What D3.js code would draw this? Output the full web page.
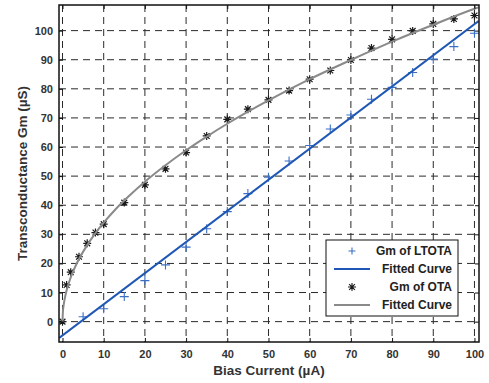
<!DOCTYPE html>
<html>
<head>
<meta charset="utf-8">
<script src="https://cdn.jsdelivr.net/npm/d3@7"></script>
<style>
  body { margin: 0; background: #fff; }
  svg { display: block; font-family: "Liberation Sans", Arial, sans-serif; }
  .tick-label { font-size: 11px; font-weight: bold; fill: #333; }
  .axis-title { font-size: 13.5px; font-weight: bold; fill: #333; }
  .legend-text { font-size: 12px; font-weight: bold; fill: #222; }
</style>
</head>
<body>
<div id="wrapper"></div>
<script>
// 1. Data

const xTicks = [0, 10, 20, 30, 40, 50, 60, 70, 80, 90, 100]
const yTicks = [0, 10, 20, 30, 40, 50, 60, 70, 80, 90, 100]

const ltotaX = [5, 10, 15, 20, 25, 30, 35, 40, 45, 50, 55, 60, 65, 70, 75, 80, 85, 90, 95, 100]
const ltotaY = [1.7, 4.4, 8.6, 14.1, 19.5, 25.6, 31.9, 37.8, 44.0, 49.6, 55.2, 60.5, 66.2, 71.0, 76.4, 80.5, 85.6, 90.2, 94.5, 99.1]

const otaX = [0, 1, 2, 4, 6, 8, 10, 15, 20, 25, 30, 35, 40, 45, 50, 55, 60, 65, 70, 75, 80, 85, 90, 95, 100]
const otaY = [0, 12.6, 17.0, 22.3, 26.9, 30.6, 33.5, 40.9, 47.0, 52.5, 58.1, 63.8, 69.5, 73.0, 76.2, 79.4, 83.3, 86.3, 89.9, 94.0, 97.0, 99.9, 102.3, 104.0, 105.2]

const ltotaFitX = [-0.8, 101]
const ltotaFitY = [-5.6, 103.3]

const otaFitX = [0, 0.1, 0.3, 0.6, 1, 2, 3, 4, 6, 8, 10, 13, 16, 20, 25, 30, 35, 40, 50, 60, 70, 80, 90, 100, 101]
const otaFitY = [0, 3.4, 5.9, 8.3, 10.75, 15.2, 18.6, 21.5, 26.3, 30.4, 34.0, 38.8, 43.0, 48.1, 53.75, 58.9, 63.6, 68.0, 76.0, 83.3, 89.9, 96.2, 102.0, 107.5, 108.0]

const legendLabels = ["Gm of LTOTA", "Fitted Curve", "Gm of OTA", "Fitted Curve"]

// 2. Dimensions

let dimensions = {
  width: 489,
  height: 383,
  margin: { top: 5, right: 10, bottom: 41, left: 59 },
}
dimensions.boundedWidth = dimensions.width - dimensions.margin.left - dimensions.margin.right
dimensions.boundedHeight = dimensions.height - dimensions.margin.top - dimensions.margin.bottom

const blue = "#1f57b4"
const blueMarker = "#3b6fc6"
const gray = "#8a8a8a"

// 3. Canvas

const wrapper = d3.select("#wrapper")
  .append("svg")
    .attr("width", dimensions.width)
    .attr("height", dimensions.height)

const bounds = wrapper.append("g")
    .attr("transform", `translate(${dimensions.margin.left}, ${dimensions.margin.top})`)

bounds.append("defs").append("clipPath")
    .attr("id", "clip")
  .append("rect")
    .attr("width", dimensions.boundedWidth)
    .attr("height", dimensions.boundedHeight)

// 4. Scales

const xScale = d3.scaleLinear()
  .domain([-0.85, 101.1])
  .range([0, dimensions.boundedWidth])

const yScale = d3.scaleLinear()
  .domain([-7, 108.8])
  .range([dimensions.boundedHeight, 0])

// grid
const grid = bounds.append("g").attr("class", "grid")
grid.selectAll(".vgrid")
  .data(xTicks)
  .join("line")
    .attr("x1", d => xScale(d)).attr("x2", d => xScale(d))
    .attr("y1", 0).attr("y2", dimensions.boundedHeight)
    .attr("stroke", "#2a2a2a").attr("stroke-dasharray", "7,5")
grid.selectAll(".hgrid")
  .data(yTicks)
  .join("line")
    .attr("y1", d => yScale(d)).attr("y2", d => yScale(d))
    .attr("x1", 0).attr("x2", dimensions.boundedWidth)
    .attr("stroke", "#2a2a2a").attr("stroke-dasharray", "7,5")

// 5. Data marks

const plot = bounds.append("g").attr("clip-path", "url(#clip)")
const lineGenerator = d3.line()
  .x(d => xScale(d[0]))
  .y(d => yScale(d[1]))

// LTOTA pluses
const plusPath = "M-4.5,0H4.5M0,-4.5V4.5"
plot.selectAll(".plus")
  .data(d3.zip(ltotaX, ltotaY))
  .join("path")
    .attr("class", "plus")
    .attr("transform", d => `translate(${xScale(d[0])}, ${yScale(d[1])})`)
    .attr("d", plusPath)
    .attr("stroke", blueMarker).attr("stroke-width", 1.1).attr("fill", "none")

plot.append("path")
    .attr("d", lineGenerator(d3.zip(ltotaFitX, ltotaFitY)))
    .attr("fill", "none").attr("stroke", blue).attr("stroke-width", 2)

// OTA stars
const starPath = "M-4,0H4M0,-4V4M-2.9,-2.9L2.9,2.9M-2.9,2.9L2.9,-2.9"
plot.selectAll(".star")
  .data(d3.zip(otaX, otaY))
  .join("path")
    .attr("class", "star")
    .attr("transform", d => `translate(${xScale(d[0])}, ${yScale(d[1])})`)
    .attr("d", starPath)
    .attr("stroke", "#1a1a1a").attr("stroke-width", 1.2).attr("fill", "none")

plot.append("path")
    .attr("d", lineGenerator.curve(d3.curveMonotoneX)(d3.zip(otaFitX, otaFitY)))
    .attr("fill", "none").attr("stroke", gray).attr("stroke-width", 2)

// 6. Peripherals

const tickLen = 4
const xAxis = d3.axisBottom(xScale).tickValues(xTicks).tickSize(-tickLen).tickPadding(8)
const xAxisTop = d3.axisTop(xScale).tickValues(xTicks).tickSize(-tickLen).tickFormat("")
const yAxis = d3.axisLeft(yScale).tickValues(yTicks).tickSize(-tickLen).tickPadding(6)
const yAxisRight = d3.axisRight(yScale).tickValues(yTicks).tickSize(-tickLen).tickFormat("")

function styleAxis(g) {
  g.select(".domain").remove()
  g.selectAll(".tick line").attr("stroke", "#111")
  g.selectAll(".tick text").attr("class", "tick-label").attr("fill", null)
}

bounds.append("g").attr("transform", `translate(0, ${dimensions.boundedHeight})`).call(xAxis).call(styleAxis)
bounds.append("g").call(xAxisTop).call(styleAxis)
bounds.append("g").call(yAxis).call(styleAxis)
bounds.append("g").attr("transform", `translate(${dimensions.boundedWidth}, 0)`).call(yAxisRight).call(styleAxis)

bounds.append("rect")
    .attr("width", dimensions.boundedWidth)
    .attr("height", dimensions.boundedHeight)
    .attr("fill", "none").attr("stroke", "#111").attr("stroke-width", 1.5)

wrapper.append("text")
    .attr("class", "axis-title")
    .attr("x", dimensions.margin.left + dimensions.boundedWidth / 2)
    .attr("y", 375)
    .attr("text-anchor", "middle")
    .text("Bias Current (µA)")

wrapper.append("text")
    .attr("class", "axis-title")
    .attr("transform", `translate(27, ${dimensions.margin.top + dimensions.boundedHeight / 2}) rotate(-90)`)
    .attr("text-anchor", "middle")
    .text("Transconductance Gm (µS)")

// legend
const legend = wrapper.append("g").attr("transform", "translate(326, 240)")
legend.append("rect")
    .attr("width", 132).attr("height", 76)
    .attr("fill", "#fff").attr("stroke", "#111").attr("stroke-width", 1)

const rowY = [11, 29, 47, 65]
const items = legend.selectAll(".item")
  .data(legendLabels)
  .join("g")
    .attr("transform", (d, i) => `translate(0, ${rowY[i]})`)

items.append("text")
    .attr("class", "legend-text")
    .attr("x", 126)
    .attr("dy", "0.35em")
    .attr("text-anchor", "end")
    .text(d => d)

items.filter((d, i) => i === 0).append("path")
    .attr("transform", "translate(26, 0)")
    .attr("d", "M-3.5,0H3.5M0,-3.5V3.5")
    .attr("stroke", blueMarker).attr("stroke-width", 1.1)
items.filter((d, i) => i === 2).append("path")
    .attr("transform", "translate(26, 0)")
    .attr("d", starPath)
    .attr("stroke", "#1a1a1a").attr("stroke-width", 1.1)
items.filter((d, i) => i === 1 || i === 3).append("line")
    .attr("x1", 8).attr("x2", 44)
    .attr("stroke", (d, i) => i === 0 ? blue : gray)
    .attr("stroke-width", 2)
</script>
</body>
</html>
